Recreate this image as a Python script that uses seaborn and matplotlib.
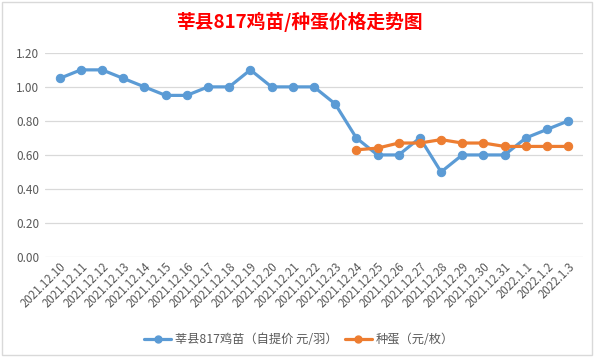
import numpy as np
import pandas as pd
import matplotlib
matplotlib.use("Agg")
import matplotlib.pyplot as plt
import seaborn as sns
from matplotlib.lines import Line2D
from matplotlib.patches import Rectangle

dates = ["2021.12.10", "2021.12.11", "2021.12.12", "2021.12.13", "2021.12.14",
         "2021.12.15", "2021.12.16", "2021.12.17", "2021.12.18", "2021.12.19",
         "2021.12.20", "2021.12.21", "2021.12.22", "2021.12.23", "2021.12.24",
         "2021.12.25", "2021.12.26", "2021.12.27", "2021.12.28", "2021.12.29",
         "2021.12.30", "2021.12.31", "2022.1.1", "2022.1.2", "2022.1.3"]
chick = [1.05, 1.10, 1.10, 1.05, 1.00, 0.95, 0.95, 1.00, 1.00, 1.10,
         1.00, 1.00, 1.00, 0.90, 0.70, 0.60, 0.60, 0.70, 0.50, 0.60,
         0.60, 0.60, 0.70, 0.75, 0.80]
egg = [None] * 14 + [0.63, 0.64, 0.67, 0.67, 0.69, 0.67, 0.67, 0.65, 0.65, 0.65, 0.65]
chick_name = "莘县817鸡苗（自提价 元/羽）"
egg_name = "种蛋（元/枚）"
title = "莘县817鸡苗/种蛋价格走势图"
yticks = [0.0, 0.2, 0.4, 0.6, 0.8, 1.0, 1.2]

sns.set_style("white")
plt.rcParams['font.family'] = ['Noto Sans CJK SC', 'DejaVu Sans']

blue = "#5B9BD5"
orange = "#ED7D31"
gray = "#595959"

idx = np.arange(len(dates))
df = pd.DataFrame({"i": idx, "chick": chick,
                   "egg": pd.array(egg, dtype="float")})

fig = plt.figure(figsize=(5.98, 3.62), dpi=100)
ax = fig.add_axes([0.075, 0.29, 0.9, 0.564])

sns.lineplot(data=df, x="i", y="chick", ax=ax, color=blue, linewidth=2.3,
             marker="o", markersize=6, markeredgecolor=blue, sort=False)
sns.lineplot(data=df.dropna(subset=["egg"]), x="i", y="egg", ax=ax, color=orange,
             linewidth=2.3, marker="o", markersize=6, markeredgecolor=orange, sort=False)

ax.set_xlim(-0.7, len(dates) - 0.3)
ax.set_ylim(0, 1.2)
ax.set_yticks(yticks)
ax.set_yticklabels([f"{v:.2f}" for v in yticks], color=gray, fontsize=8.5)
ax.set_xticks(idx)
ax.set_xticklabels(dates, rotation=45, ha="right", rotation_mode="anchor",
                   color=gray, fontsize=8.3)
ax.tick_params(axis="both", length=0, pad=4)
ax.tick_params(axis="x", pad=2)
ax.grid(axis="y", color="#D9D9D9", linewidth=0.9)
ax.set_axisbelow(True)
for s in ax.spines.values():
    s.set_visible(False)
ax.set_xlabel("")
ax.set_ylabel("")

fig.text(0.5, 0.938, title, ha="center", va="center", color="#FF0000",
         fontsize=13.5, fontweight="bold")

handles = [Line2D([0], [0], color=blue, lw=2.3, marker="o", markersize=5),
           Line2D([0], [0], color=orange, lw=2.3, marker="o", markersize=5)]
fig.legend(handles, [chick_name, egg_name], loc="center", bbox_to_anchor=(0.5, 0.062),
           ncol=2, frameon=False, fontsize=8.8, labelcolor=gray,
           handlelength=2.2, columnspacing=0.6, handletextpad=0.3)

# chart frame
fig.patches.append(Rectangle((0.004, 0.02), 0.986, 0.975, transform=fig.transFigure,
                             fill=False, edgecolor="#D9D9D9", linewidth=1))

fig.savefig("out.png", dpi=100, facecolor="white")
